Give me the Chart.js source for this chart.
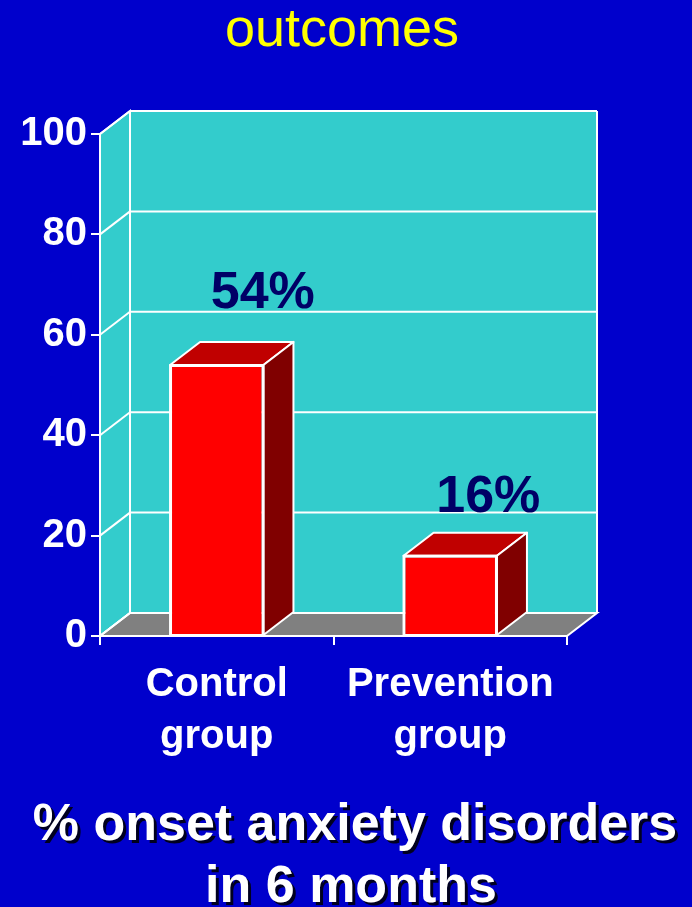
<!DOCTYPE html>
<html lang="en">
<head>
<meta charset="UTF-8">
<title>outcomes</title>
<script src="https://cdn.jsdelivr.net/npm/chart.js"></script>
<style>
  html, body { margin: 0; padding: 0; background: #0000cc; }
  canvas { display: block; }
</style>
</head>
<body>
<canvas id="myChart" width="692" height="907"></canvas>
<script>
// data
const categories = [['Control', 'group'], ['Prevention', 'group']];
const onsetPct = [54, 16];
const yTicks = [0, 20, 40, 60, 80, 100];
const chartTitle = 'outcomes';
const caption = ['% onset anxiety disorders', 'in 6 months'];

const FONT = "'Liberation Sans', Arial, Helvetica, sans-serif";
const BG = '#0000cc';
const WALL = '#33cccc';
const FLOOR = '#808080';
const LINE = '#ffffff';
// depth of the 3d box (back plane offset)
const DX = 30, DY = -23;

function poly(ctx, pts, fill) {
    ctx.beginPath();
    ctx.moveTo(pts[0][0], pts[0][1]);
    for (let i = 1; i < pts.length; i++) ctx.lineTo(pts[i][0], pts[i][1]);
    ctx.closePath();
    if (fill) { ctx.fillStyle = fill; ctx.fill(); }
    ctx.stroke();
}

function line(ctx, x1, y1, x2, y2) {
    ctx.beginPath();
    ctx.moveTo(x1, y1);
    ctx.lineTo(x2, y2);
    ctx.stroke();
}

const box3d = {
    id: 'box3d',
    beforeDraw(chart) {
        const ctx = chart.ctx;
        ctx.save();
        ctx.fillStyle = BG;
        ctx.fillRect(0, 0, chart.width, chart.height);
        ctx.restore();
    },
    beforeDatasetsDraw(chart) {
        const ctx = chart.ctx;
        const { left, right, top, bottom } = chart.chartArea;
        const y = chart.scales.y;
        ctx.save();
        ctx.strokeStyle = LINE;
        ctx.lineWidth = 2;
        // back wall
        ctx.fillStyle = WALL;
        ctx.fillRect(left + DX, top + DY, right - left, bottom - top);
        // side wall
        poly(ctx, [[left, top], [left + DX, top + DY], [left + DX, bottom + DY], [left, bottom]], WALL);
        // floor
        poly(ctx, [[left, bottom], [left + DX, bottom + DY], [right + DX, bottom + DY], [right, bottom]], FLOOR);
        // gridlines on back and side wall
        yTicks.forEach(v => {
            const py = y.getPixelForValue(v);
            line(ctx, left, py, left + DX, py + DY);
            line(ctx, left + DX, py + DY, right + DX, py + DY);
        });
        line(ctx, left + DX, top + DY, left + DX, bottom + DY);
        line(ctx, right + DX, top + DY, right + DX, bottom + DY);
        // front axes
        line(ctx, left, top, left, bottom);
        line(ctx, left, bottom, right, bottom);
        ctx.restore();
    },
    afterDatasetsDraw(chart, args, opts) {
        const ctx = chart.ctx;
        const meta = chart.getDatasetMeta(0);
        ctx.save();
        ctx.strokeStyle = LINE;
        ctx.lineWidth = 2;
        ctx.lineJoin = 'round';
        meta.data.forEach((bar, i) => {
            const l = bar.x - bar.width / 2, r = bar.x + bar.width / 2;
            const t = bar.y, b = bar.base;
            poly(ctx, [[l, t], [l + DX, t + DY], [r + DX, t + DY], [r, t]], '#c00000');
            poly(ctx, [[r, t], [r + DX, t + DY], [r + DX, b + DY], [r, b]], '#800000');
            poly(ctx, [[l, t], [r, t], [r, b], [l, b]], null);

            // value label
            const off = opts.labelOffsets[i];
            ctx.fillStyle = '#000066';
            ctx.font = 'bold 52px ' + FONT;
            ctx.textAlign = 'center';
            ctx.textBaseline = 'alphabetic';
            ctx.fillText(onsetPct[i] + '%', bar.x + off[0], t + off[1]);
        });
        ctx.restore();
    },
    afterDraw(chart) {
        const ctx = chart.ctx;
        ctx.save();
        ctx.textAlign = 'center';
        ctx.textBaseline = 'alphabetic';
        ctx.fillStyle = '#ffff00';
        ctx.font = '54px ' + FONT;
        ctx.fillText(chartTitle, 342, 46);

        ctx.font = 'bold 52px ' + FONT;
        ctx.shadowColor = 'rgba(0, 0, 0, 0.85)';
        ctx.shadowOffsetX = 3;
        ctx.shadowOffsetY = 3;
        ctx.fillStyle = '#ffffff';
        ctx.fillText(caption[0], 355, 840);
        ctx.fillText(caption[1], 351, 902);
        ctx.restore();
    }
};

const tickFont = { family: FONT, size: 40, weight: 'bold', lineHeight: 1.3 };

const config = {
    type: 'bar',
    data: {
        labels: categories,
        datasets: [{
            data: onsetPct,
            backgroundColor: '#ff0000',
            borderColor: LINE,
            borderWidth: 2,
            barPercentage: 0.4,
            categoryPercentage: 1.0
        }]
    },
    options: {
        responsive: false,
        devicePixelRatio: 1,
        animation: false,
        layout: { padding: { left: 0, right: 125, top: 134, bottom: 0 } },
        plugins: {
            legend: { display: false },
            tooltip: { enabled: false },
            box3d: { labelOffsets: [[46, -57], [38, -44]] }
        },
        scales: {
            x: {
                grid: { offset: true, drawOnChartArea: false, tickLength: 9, color: LINE, lineWidth: 2 },
                border: { color: LINE, width: 2 },
                ticks: { color: '#ffffff', font: tickFont, padding: 14, maxRotation: 0, autoSkip: false },
                afterFit: s => { s.height = 907 - 636; }
            },
            y: {
                min: 0,
                max: 100,
                grid: { drawOnChartArea: false, tickLength: 9, color: LINE, lineWidth: 2 },
                border: { color: LINE, width: 2 },
                ticks: { color: '#ffffff', font: { family: FONT, size: 40, weight: 'bold' }, padding: 4 },
                afterBuildTicks: s => { s.ticks = yTicks.map(v => ({ value: v })); },
                afterFit: s => { s.width = 100; }
            }
        }
    },
    plugins: [box3d]
};

new Chart(document.getElementById('myChart'), config);
</script>
</body>
</html>
